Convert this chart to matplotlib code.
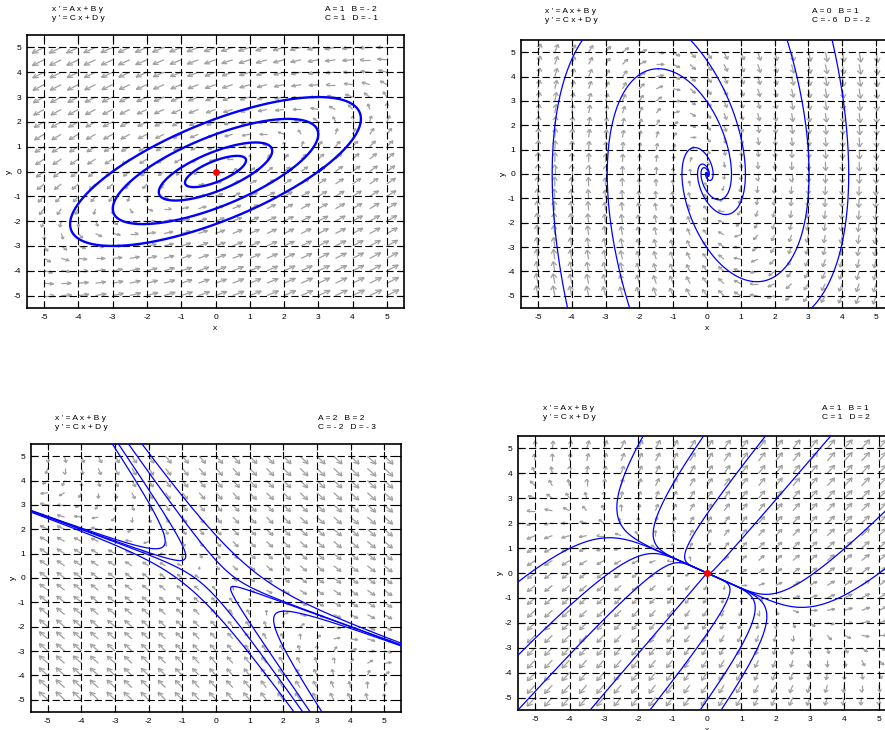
import numpy as np
import matplotlib
matplotlib.use('Agg')
import matplotlib.pyplot as plt
from matplotlib.collections import LineCollection

plt.rcParams['font.family'] = ['Liberation Sans', 'DejaVu Sans']
plt.rcParams['axes.unicode_minus'] = False

W, H = 885, 730

# ---- system parameters (x' = A x + B y, y' = C x + D y) ----
A_vals = [1, 0, 2, 1]
B_vals = [-2, 1, 2, 1]
C_vals = [1, -6, -2, 1]
D_vals = [-1, -2, -3, 2]

# ---- trajectory seed points per panel ----
seeds1_x = [0.63, 1.17, 2.12, 3.0]
seeds1_y = [0.0, 0.0, 0.0, 0.0]

seeds2_x = [-4.38, -0.49, 2.37, 3.7, -1.44]
seeds2_y = [3.0, 5.5, 5.5, 5.5, 4.32]

seeds3_x = [-3.08, -2.9, -2.6, -2.2, 2.32, 2.58, 2.8, 3.15]
seeds3_y = [5.5, 5.5, 5.5, 5.5, -5.5, -5.5, -5.5, -5.5]

seeds4_x = [-1.86, -0.1, 1.7, 3.6, 5.5, 5.5, -5.5, -5.5, -5.5, -3.4, -1.66, -0.2, 0.41]
seeds4_y = [5.5, 5.5, 5.5, 5.5, 2.9, 0.5, -0.36, -3.3, -5.5, -5.5, -5.5, -5.5, -5.5]

eq_x = [0, 0]          # equilibrium markers (panels 1 and 4)
eq_y = [0, 0]

ticks = [-5, -4, -3, -2, -1, 0, 1, 2, 3, 4, 5]

# axes boxes in pixels: left, top, right, bottom
boxes = [(27, 35, 404, 308), (521, 40, 893, 308), (31, 444, 401, 712), (518, 436, 896, 710)]
# text anchor positions (pixels)
eq_text_pos = [(52, 14), (545, 16), (55, 423), (543, 413)]
par_text_pos = [(325, 14), (812, 16), (318, 423), (822, 413)]
line_w = [1.7, 0.9, 0.9, 0.9]


def trajectory(M, p0, T, n=6000, lim=5.65):
    lam, V = np.linalg.eig(M.astype(complex))
    c = np.linalg.solve(V, np.asarray(p0, dtype=complex))
    t = np.linspace(0, T, n)
    X = np.real(V @ (c[:, None] * np.exp(lam[:, None] * t[None, :])))
    x, y = X
    bad = (np.abs(x) > lim) | (np.abs(y) > lim) | (np.hypot(x, y) < 0.004)
    idx = np.argmax(bad[1:]) + 1 if bad[1:].any() else len(x)
    return x[:idx + 1], y[:idx + 1]


def draw_field(ax, M):
    g = np.arange(-5, 5.01, 0.5)
    X, Y = np.meshgrid(g, g)
    U = M[0, 0] * X + M[0, 1] * Y
    Vv = M[1, 0] * X + M[1, 1] * Y
    mag = np.hypot(U, Vv)
    mmax = mag.max()
    segs = []
    for xx, yy, u, v, m in zip(X.ravel(), Y.ravel(), U.ravel(), Vv.ravel(), mag.ravel()):
        if m == 0:
            continue
        L = 0.42 * (m / mmax) ** 0.28
        ux, uy = u / m, v / m
        tx, ty = xx + L * ux, yy + L * uy
        segs.append([(xx, yy), (tx, ty)])
        h = 0.45 * L
        for a in (np.deg2rad(28), -np.deg2rad(28)):
            bx = -ux * np.cos(a) + uy * np.sin(a)
            by = -ux * np.sin(a) - uy * np.cos(a)
            segs.append([(tx, ty), (tx + h * bx, ty + h * by)])
    ax.add_collection(LineCollection(segs, colors='#a0a0a0', linewidths=0.9, zorder=1))


fig = plt.figure(figsize=(W / 100, H / 100), dpi=100)

seeds = [(seeds1_x, seeds1_y), (seeds2_x, seeds2_y), (seeds3_x, seeds3_y), (seeds4_x, seeds4_y)]
Tmax = [2 * np.pi + 0.05, 25, 12, 25]

for k in range(4):
    l, t, r, b = boxes[k]
    ax = fig.add_axes([l / W, 1 - b / H, (r - l) / W, (b - t) / H])
    M = np.array([[A_vals[k], B_vals[k]], [C_vals[k], D_vals[k]]], dtype=float)
    draw_field(ax, M)
    sx, sy = seeds[k]
    for x0, y0 in zip(sx, sy):
        xf, yf = trajectory(M, (x0, y0), Tmax[k])
        ax.plot(xf, yf, color='#0000ff', lw=line_w[k], zorder=3, solid_capstyle='round')
        if k != 0:
            xb, yb = trajectory(-M, (x0, y0), Tmax[k])
            ax.plot(xb, yb, color='#0000ff', lw=line_w[k], zorder=3)
    if k in (0, 3):
        ax.plot(eq_x[0], eq_y[0], 'o', color='red', ms=4, zorder=4)
    ax.set_xlim(-5.5, 5.5)
    ax.set_ylim(-5.5, 5.5)
    ax.set_xticks(ticks)
    ax.set_yticks(ticks)
    ax.grid(True, color='black', linestyle=(0, (6.5, 3)), linewidth=0.8)
    ax.set_axisbelow(False)
    ax.tick_params(direction='in', top=True, right=True, length=4, width=0.8,
                   labelsize=6, pad=4, colors='black')
    for s in ax.spines.values():
        s.set_linewidth(1.2)
    ax.set_xlabel('x', fontsize=6, labelpad=3)
    ax.set_ylabel('y', fontsize=6, labelpad=1)

    ex, ey = eq_text_pos[k]
    fig.text(ex / W, 1 - ey / H, "x ' = A x + B y\ny ' = C x + D y", fontsize=6,
             va='center', ha='left', linespacing=1.35)
    px, py = par_text_pos[k]
    def fmt(v):
        return ('- %d' % abs(v)) if v < 0 else ('%d' % v)
    ptxt = "A = %s   B = %s\nC = %s   D = %s" % (fmt(A_vals[k]), fmt(B_vals[k]), fmt(C_vals[k]), fmt(D_vals[k]))
    fig.text(px / W, 1 - py / H, ptxt, fontsize=6, va='center', ha='left', linespacing=1.35)

fig.savefig('out.png', dpi=100)
